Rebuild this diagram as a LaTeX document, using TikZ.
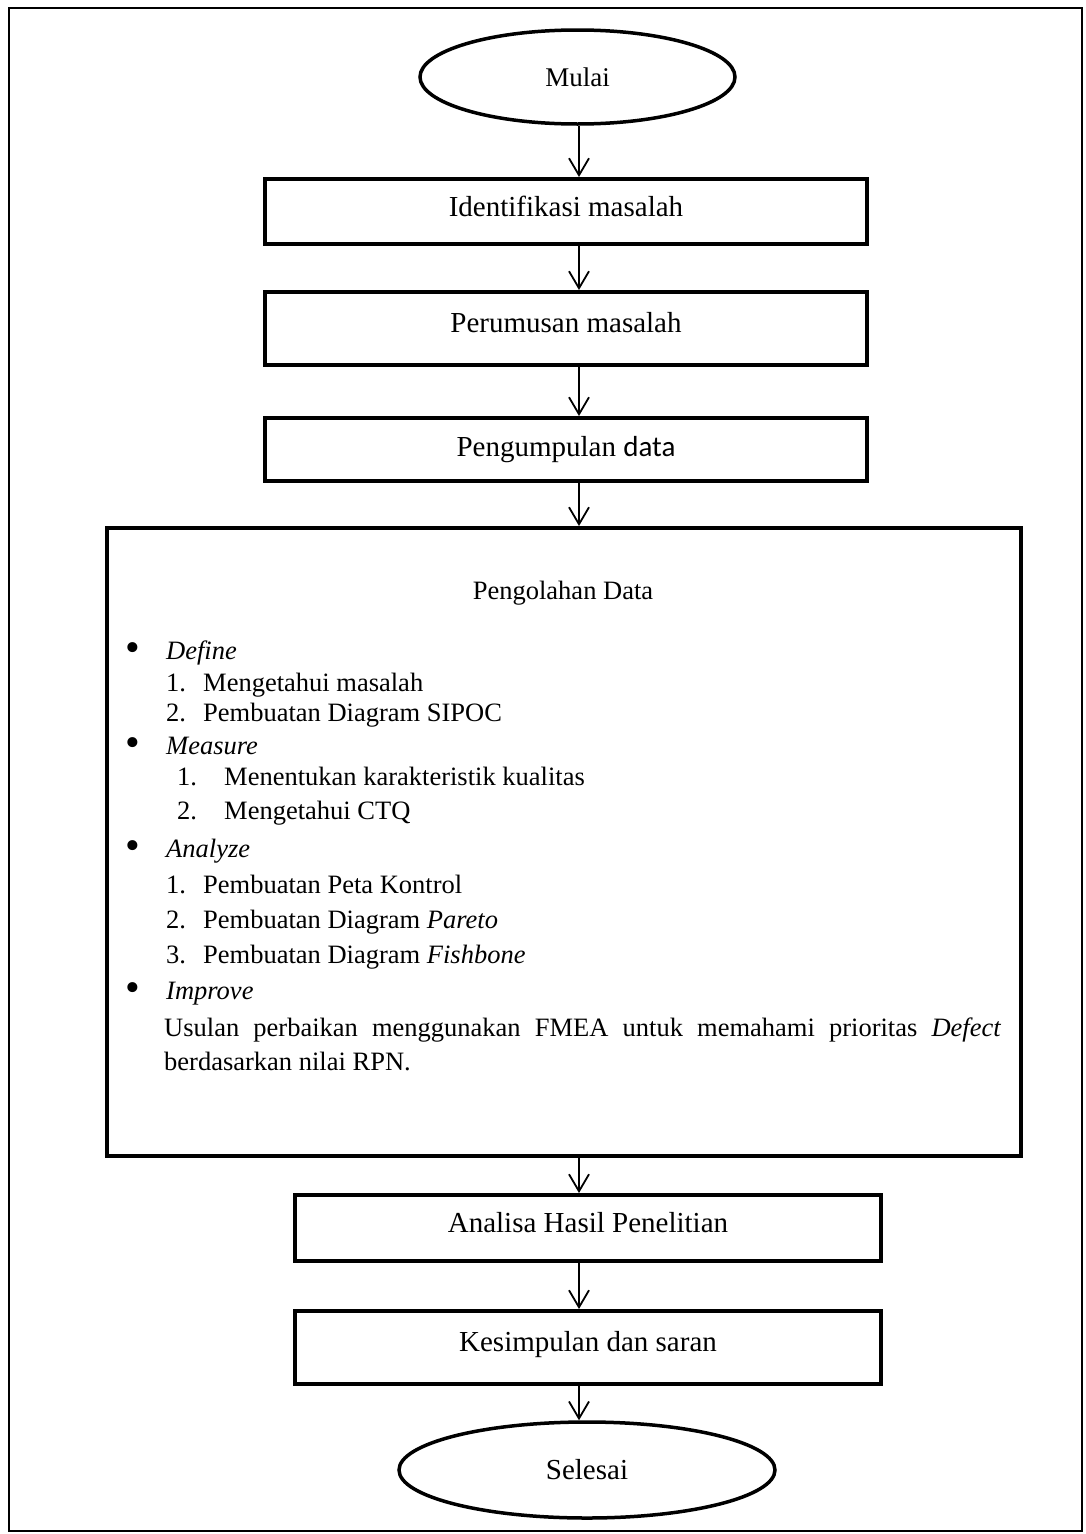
\documentclass[tikz,border=0pt]{standalone}
\usepackage{fontspec}
\setmainfont{Liberation Serif}
\newfontfamily\calibri{Carlito}
\usetikzlibrary{arrows.meta,shapes.geometric}

\tikzset{
  langkah/.style={draw, rectangle, line width=4pt, inner sep=0pt, font=\fontsize{29}{34}\selectfont},
  ujung/.style={draw, ellipse, line width=3.5pt, inner sep=0pt},
  panah/.style={-{Straight Barb[length=17pt,width=20pt]}, line width=1.8pt},
  isi/.style={anchor=base west, inner sep=0pt, font=\fontsize{26.5}{32}\selectfont},
  titik/.style={inner sep=0pt, font=\fontsize{42}{42}\selectfont},
}

\begin{document}
\begin{tikzpicture}[x=1pt,y=-1pt]
			%%%%% START %%%%%
			\useasboundingbox (0,0) rectangle (1085,1534);
			\draw[line width=2pt] (9,8) rectangle (1082,1531);
			
			\node[ujung, minimum width=315pt, minimum height=94pt, font=\fontsize{27}{32}\selectfont] (mulai) at (577.5,77) {Mulai};
			
			\node[langkah, minimum width=602pt, minimum height=65pt, text depth=10pt] (identifikasi) at (566,211.5) {Identifikasi masalah};
			\node[langkah, minimum width=602pt, minimum height=73pt, text depth=12pt] (perumusan) at (566,328.5) {Perumusan masalah};
			\node[langkah, minimum width=602pt, minimum height=63pt] (pengumpulan) at (566,449.5) {Pengumpulan {\calibri data}};
			
			% kotak pengolahan data
			\node[langkah, minimum width=914pt, minimum height=628pt] (pengolahan) at (564,842) {};
			\node[inner sep=0pt, font=\fontsize{26.5}{32}\selectfont] (judul) at (563,593) {Pengolahan Data};
			
			\node[titik] (b1) at (133,652) {\textbullet};
			\node[isi] (define) at (166,659) {\textit{Define}};
			\node[isi] (d1n) at (166,691) {1.};
			\node[isi] (d1) at (203,691) {Mengetahui masalah};
			\node[isi] (d2n) at (166,721) {2.};
			\node[isi] (d2) at (203,721) {Pembuatan Diagram SIPOC};
			
			\node[titik] (b2) at (133,747) {\textbullet};
			\node[isi] (measure) at (166,754) {\textit{Measure}};
			\node[isi] (m1n) at (177,785) {1.};
			\node[isi] (m1) at (224,785) {Menentukan karakteristik kualitas};
			\node[isi] (m2n) at (177,819) {2.};
			\node[isi] (m2) at (224,819) {Mengetahui CTQ};
			
			\node[titik] (b3) at (133,850) {\textbullet};
			\node[isi] (analyze) at (166,857) {\textit{Analyze}};
			\node[isi] (a1n) at (166,893) {1.};
			\node[isi] (a1) at (203,893) {Pembuatan Peta Kontrol};
			\node[isi] (a2n) at (166,928) {2.};
			\node[isi] (a2) at (203,928) {Pembuatan Diagram \textit{Pareto}};
			\node[isi] (a3n) at (166,963) {3.};
			\node[isi] (a3) at (203,963) {Pembuatan Diagram \textit{Fishbone}};
			
			\node[titik] (b4) at (133,992) {\textbullet};
			\node[isi] (improve) at (166,999) {\textit{Improve}};
			\node[isi] (usulan) at (164,1036) {\makebox[837pt][s]{Usulan perbaikan menggunakan FMEA untuk memahami prioritas \textit{Defect}}};
			\node[isi] (usulan2) at (164,1070) {berdasarkan nilai RPN.};
			
			\node[langkah, minimum width=586pt, minimum height=66pt, text depth=12pt] (analisa) at (588,1228) {Analisa Hasil Penelitian};
			\node[langkah, minimum width=586pt, minimum height=73pt, text depth=12pt] (kesimpulan) at (588,1347.5) {Kesimpulan dan saran};
			
			\node[ujung, minimum width=376pt, minimum height=96pt, font=\fontsize{29}{34}\selectfont] (selesai) at (587,1470) {Selesai};
			
			% panah
			\coordinate (jalur) at (579,0);
			\draw[panah] (jalur |- mulai.south) -- (jalur |- identifikasi.north);
			\draw[panah] (jalur |- identifikasi.south) -- (jalur |- perumusan.north);
			\draw[panah] (jalur |- perumusan.south) -- (jalur |- pengumpulan.north);
			\draw[panah] (jalur |- pengumpulan.south) -- (jalur |- pengolahan.north);
			\draw[panah] (jalur |- pengolahan.south) -- (jalur |- analisa.north);
			\draw[panah] (jalur |- analisa.south) -- (jalur |- kesimpulan.north);
			\draw[panah] (jalur |- kesimpulan.south) -- (jalur |- selesai.north);
			
			%%%%% END %%%%%
\end{tikzpicture}
\end{document}
